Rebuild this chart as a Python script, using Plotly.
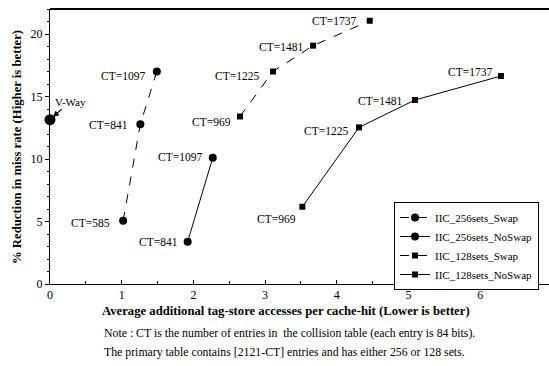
import plotly.graph_objects as go

# ---- data ----
s256_swap_x = [1.02, 1.26, 1.49]
s256_swap_y = [5.06, 12.78, 17.0]
s256_swap_ct = ["CT=585", "CT=841", "CT=1097"]

s256_noswap_x = [1.92, 2.27]
s256_noswap_y = [3.38, 10.1]
s256_noswap_ct = ["CT=841", "CT=1097"]

s128_swap_x = [2.65, 3.11, 3.67, 4.46]
s128_swap_y = [13.4, 17.0, 19.07, 21.06]
s128_swap_ct = ["CT=969", "CT=1225", "CT=1481", "CT=1737"]

s128_noswap_x = [3.52, 4.31, 5.09, 6.29]
s128_noswap_y = [6.18, 12.53, 14.72, 16.64]
s128_noswap_ct = ["CT=969", "CT=1225", "CT=1481", "CT=1737"]

vway_x = [0.0]
vway_y = [13.15]

x_ticks = [0, 1, 2, 3, 4, 5, 6]
y_ticks = [0, 5, 10, 15, 20]

# label pixel offsets (style only)
off_256_swap = [(-11, -2), (-10, -1), (-10, -4)]
off_256_noswap = [(-8, 0), (-9, 1)]
off_128_swap = [(-7, -5), (-12, -4), (-8, -1), (-12, 0)]
off_128_noswap = [(-4, -12), (-9, -4), (-11, -1), (-7, 4)]

FONT = "Liberation Serif"

fig = go.Figure()

series = [
    ("IIC_256sets_Swap", s256_swap_x, s256_swap_y, "dash", "circle", 8),
    ("IIC_256sets_NoSwap", s256_noswap_x, s256_noswap_y, "solid", "circle", 8),
    ("IIC_128sets_Swap", s128_swap_x, s128_swap_y, "dash", "square", 6),
    ("IIC_128sets_NoSwap", s128_noswap_x, s128_noswap_y, "solid", "square", 6),
]
for name, xs, ys, dash, sym, sz in series:
    fig.add_trace(go.Scatter(
        x=xs, y=ys, name=name, mode="lines+markers",
        line=dict(color="black", width=1, dash=dash),
        marker=dict(color="black", symbol=sym, size=sz),
    ))

fig.add_trace(go.Scatter(
    x=vway_x, y=vway_y, mode="markers", showlegend=False,
    marker=dict(color="black", symbol="circle", size=11),
    cliponaxis=False,
))

annotations = []
for xs, ys, labels, offs in [
    (s256_swap_x, s256_swap_y, s256_swap_ct, off_256_swap),
    (s256_noswap_x, s256_noswap_y, s256_noswap_ct, off_256_noswap),
    (s128_swap_x, s128_swap_y, s128_swap_ct, off_128_swap),
    (s128_noswap_x, s128_noswap_y, s128_noswap_ct, off_128_noswap),
]:
    for x, y, t, (dx, dy) in zip(xs, ys, labels, offs):
        annotations.append(dict(
            x=x, y=y, xref="x", yref="y", text=t, showarrow=False,
            xanchor="right", yanchor="middle", xshift=dx, yshift=dy,
            font=dict(family=FONT, size=11.5, color="black"),
        ))

annotations.append(dict(
    x=vway_x[0], y=vway_y[0], xref="x", yref="y", text="V-Way",
    showarrow=True, arrowhead=2, arrowsize=1, arrowwidth=1.2, arrowcolor="black",
    ax=20, ay=-18, standoff=4,
    font=dict(family=FONT, size=11, color="black"),
))

PW, PH = 499.0, 275.0
def px_x(p):
    return (p - 50) / PW
def px_y(p):
    return (284 - p) / PH

annotations.append(dict(
    x=px_x(286), y=px_y(311), xref="paper", yref="paper",
    text="<b>Average additional tag-store accesses per cache-hit (Lower is better)</b>",
    showarrow=False, xanchor="center", yanchor="middle",
    font=dict(family=FONT, size=12.7, color="black"),
))
annotations.append(dict(
    x=px_x(102), y=px_y(333), xref="paper", yref="paper",
    text="Note : CT is the number of entries in  the collision table (each entry is 84 bits).",
    showarrow=False, xanchor="left", yanchor="middle",
    font=dict(family=FONT, size=11.8, color="black"),
))
annotations.append(dict(
    x=px_x(102), y=px_y(352), xref="paper", yref="paper",
    text="The primary table contains [2121-CT] entries and has either 256 or 128 sets.",
    showarrow=False, xanchor="left", yanchor="middle",
    font=dict(family=FONT, size=11.8, color="black"),
))
annotations.append(dict(
    x=px_x(17), y=px_y(147), xref="paper", yref="paper",
    text="<b>% Reduction in miss rate (Higher is better)</b>", textangle=-90,
    showarrow=False, xanchor="center", yanchor="middle",
    font=dict(family=FONT, size=12.7, color="black"),
))

fig.update_layout(
    width=549, height=366,
    margin=dict(l=50, r=0, t=9, b=82, autoexpand=False),
    plot_bgcolor="white", paper_bgcolor="white",
    font=dict(family=FONT, size=11.5, color="black"),
    showlegend=True,
    legend=dict(
        x=px_x(394), y=px_y(202), xanchor="left", yanchor="top",
        bgcolor="white", bordercolor="black", borderwidth=1,
        font=dict(family=FONT, size=11, color="black"),
        tracegroupgap=0, itemwidth=30,
    ),
    xaxis=dict(
        range=[0, 6.96], tickvals=x_ticks, ticktext=[str(v) for v in x_ticks],
        ticks="inside", ticklen=4, tickcolor="black",
        minor=dict(dtick=0.5, ticks="inside", ticklen=3, tickcolor="black"),
        showgrid=False, zeroline=False, showline=True, linecolor="black", linewidth=1,
        tickfont=dict(family=FONT, size=12, color="black"), automargin=False,
    ),
    yaxis=dict(
        range=[0, 22], tickvals=y_ticks, ticktext=[str(v) for v in y_ticks],
        ticks="outside", ticklen=4, tickcolor="black",
        minor=dict(dtick=1, ticks="outside", ticklen=2, tickcolor="black"),
        showgrid=False, zeroline=False, showline=True, linecolor="black", linewidth=1,
        tickfont=dict(family=FONT, size=12, color="black"), automargin=False,
    ),
    annotations=annotations,
    shapes=[dict(type="line", xref="paper", yref="paper", x0=0, x1=1, y0=1, y1=1,
                 line=dict(color="black", width=2))],
)

fig.write_html("out.html", config={"displayModeBar": False},
               post_script="document.body.style.margin='0';document.body.style.padding='0';")
